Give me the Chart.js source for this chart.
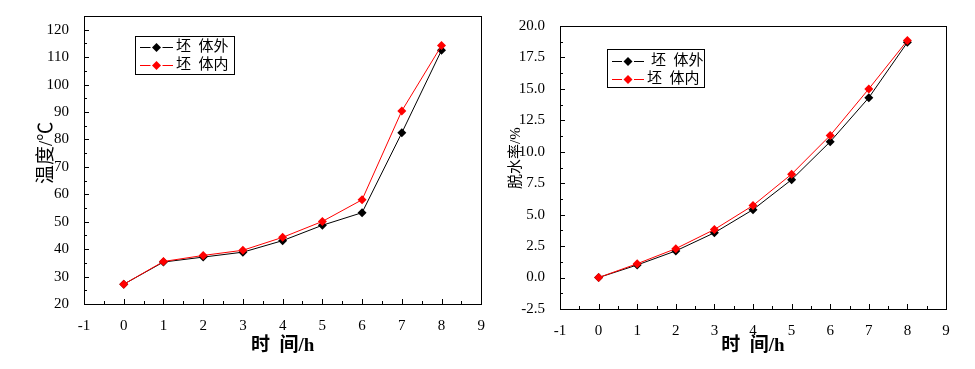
<!DOCTYPE html>
<html lang="zh">
<head>
    <meta charset="UTF-8">
    <title>温度与脱水率</title>
    <style>
        body { margin: 0; background: #fff; }
        .panel { position: absolute; top: 0; }
        #left { left: 0; width: 490px; height: 369px; }
        #right { left: 490px; width: 485px; height: 369px; }
    </style>
</head>
<body>
    <div class="panel" id="left"><canvas id="tempChart" width="490" height="369"></canvas></div>
    <div class="panel" id="right"><canvas id="dehydChart" width="485" height="369"></canvas></div>

    <script src="https://cdn.jsdelivr.net/npm/chart.js"></script>
    <script>
      const hours = [0, 1, 2, 3, 4, 5, 6, 7, 8];
      const seriesNames = ['坯  体外', '坯  体内'];
      const tempOuter = [27.2, 35.3, 37.1, 38.9, 43.1, 48.7, 53.3, 82.4, 112.5];
      const tempInner = [27.2, 35.5, 37.7, 39.6, 44.3, 50.1, 58.0, 90.4, 114.2];
      const dehydOuter = [0, 1.0, 2.12, 3.56, 5.4, 7.78, 10.8, 14.3, 18.7];
      const dehydInner = [0, 1.1, 2.3, 3.82, 5.73, 8.22, 11.3, 15.0, 18.85];
      const xTicks = [-1, 0, 1, 2, 3, 4, 5, 6, 7, 8, 9];
      const tempTicks = [20, 30, 40, 50, 60, 70, 80, 90, 100, 110, 120];
      const dehydTicks = [-2.5, 0, 2.5, 5, 7.5, 10, 12.5, 15, 17.5, 20];

      Chart.defaults.color = '#000';
      const serif = "'Liberation Serif', 'Noto Sans CJK SC', serif";
      const mixed = "'Liberation Serif', 'Noto Sans CJK SC', sans-serif";

      // box around the plot with short inward ticks (major + one minor between)
      const frame = {
          id: 'frame',
          afterDraw(chart) {
              const { ctx, chartArea: a, scales } = chart;
              ctx.save();
              ctx.strokeStyle = '#000';
              ctx.lineWidth = 1;
              ctx.strokeRect(Math.round(a.left) + 0.5, Math.round(a.top) + 0.5,
                  Math.round(a.right - a.left), Math.round(a.bottom - a.top));
              ctx.beginPath();
              ['x', 'y'].forEach(id => {
                  const s = scales[id];
                  const vals = s.ticks.map(t => t.value);
                  const step = vals[1] - vals[0];
                  const marks = [];
                  vals.forEach(v => {
                      marks.push([v, 5]);
                      if (v + step / 2 <= s.max + 1e-9) marks.push([v + step / 2, 3]);
                  });
                  marks.forEach(([v, len]) => {
                      const p = Math.round(s.getPixelForValue(v)) + 0.5;
                      if (id === 'x') {
                          ctx.moveTo(p, a.bottom);
                          ctx.lineTo(p, a.bottom - len);
                      } else {
                          ctx.moveTo(a.left, p);
                          ctx.lineTo(a.left + len, p);
                      }
                  });
              });
              ctx.stroke();
              ctx.restore();
          }
      };

      // boxed legend like the original figure
      const boxLegend = {
          id: 'boxLegend',
          afterDraw(chart, args, o) {
              const ctx = chart.ctx;
              ctx.save();
              ctx.strokeStyle = '#000';
              ctx.lineWidth = 1;
              ctx.strokeRect(o.box[0] + 0.5, o.box[1] + 0.5, o.box[2], o.box[3]);
              ctx.font = '15px ' + mixed;
              ctx.textBaseline = 'middle';
              chart.data.datasets.forEach((ds, i) => {
                  const y = Math.round(o.rows[i]) + 0.5;
                  const m = (o.line[0] + o.line[1]) / 2;
                  ctx.strokeStyle = ds.borderColor;
                  ctx.beginPath();
                  ctx.moveTo(o.line[0], y);
                  ctx.lineTo(m - 6, y);
                  ctx.moveTo(m + 6, y);
                  ctx.lineTo(o.line[1], y);
                  ctx.stroke();
                  ctx.fillStyle = ds.backgroundColor;
                  ctx.beginPath();
                  ctx.moveTo(m, y - 4.5);
                  ctx.lineTo(m + 4.5, y);
                  ctx.lineTo(m, y + 4.5);
                  ctx.lineTo(m - 4.5, y);
                  ctx.closePath();
                  ctx.fill();
                  ctx.fillStyle = '#000';
                  ctx.fillText(ds.label, o.textX[i], y);
              });
              ctx.restore();
          }
      };

      function series(label, values, color, order) {
          return {
              label: label,
              data: hours.map((h, i) => ({ x: h, y: values[i] })),
              borderColor: color,
              backgroundColor: color,
              borderWidth: 1,
              pointStyle: 'rectRot',
              pointRadius: 4.5,
              pointBorderWidth: 0,
              tension: 0,
              order: order
          };
      }

      function makeChart(id, cfg) {
          new Chart(document.getElementById(id), {
              type: 'line',
              data: {
                  datasets: [
                      series(seriesNames[0], cfg.outer, '#000000', 1),
                      series(seriesNames[1], cfg.inner, '#ff0000', 0)
                  ]
              },
              options: {
                  responsive: false,
                  animation: false,
                  layout: { padding: cfg.padding },
                  plugins: {
                      legend: { display: false },
                      tooltip: { enabled: false },
                      boxLegend: cfg.legend
                  },
                  scales: {
                      x: {
                          type: 'linear',
                          min: -1,
                          max: 9,
                          afterBuildTicks: s => { s.ticks = xTicks.map(v => ({ value: v })); },
                          afterFit: s => { s.height = cfg.xHeight; },
                          grid: { display: false },
                          border: { display: false },
                          ticks: { padding: 5, maxRotation: 0, font: { family: serif, size: 15 } },
                          title: {
                              display: true,
                              text: '时  间/h',
                              font: { family: mixed, size: 19, weight: 'bold' },
                              padding: { top: 0, bottom: 12 }
                          }
                      },
                      y: {
                          min: cfg.yMin,
                          max: cfg.yMax,
                          afterBuildTicks: s => { s.ticks = cfg.yTicks.map(v => ({ value: v })); },
                          afterFit: s => { s.width = cfg.yWidth; },
                          grid: { display: false },
                          border: { display: false },
                          ticks: {
                              padding: 7,
                              font: { family: serif, size: 15 },
                              callback: v => cfg.fmt(v)
                          },
                          title: {
                              display: true,
                              // leading spaces nudge the rotated title up a little, as in the original
                              text: cfg.yTitle,
                              font: { family: mixed, size: cfg.yTitleSize },
                              padding: { top: cfg.yTitlePad, bottom: 0 }
                          }
                      }
                  }
              },
              plugins: [frame, boxLegend]
          });
      }

      makeChart('tempChart', {
          outer: tempOuter,
          inner: tempInner,
          yMin: 20,
          yMax: 125,
          yTicks: tempTicks,
          fmt: v => String(v),
          yTitle: '   温度/℃',
          yTitleSize: 19,
          yTitlePad: 36,
          yWidth: 84,
          xHeight: 65,
          padding: { left: 0, right: 8, top: 13, bottom: 0 },
          legend: { box: [135, 36, 99, 38], rows: [46.7, 65], line: [140, 173], textX: [176, 176] }
      });

      makeChart('dehydChart', {
          outer: dehydOuter,
          inner: dehydInner,
          yMin: -2.5,
          yMax: 20,
          yTicks: dehydTicks,
          fmt: v => v.toFixed(1),
          yTitle: '     脱水率/%',
          yTitleSize: 15,
          yTitlePad: 17,
          yWidth: 70,
          xHeight: 60,
          padding: { left: 0, right: 29, top: 26, bottom: 0 },
          legend: { box: [117, 49, 97, 38], rows: [60.7, 79.3], line: [122, 154], textX: [161, 157] }
      });
    </script>
</body>
</html>
